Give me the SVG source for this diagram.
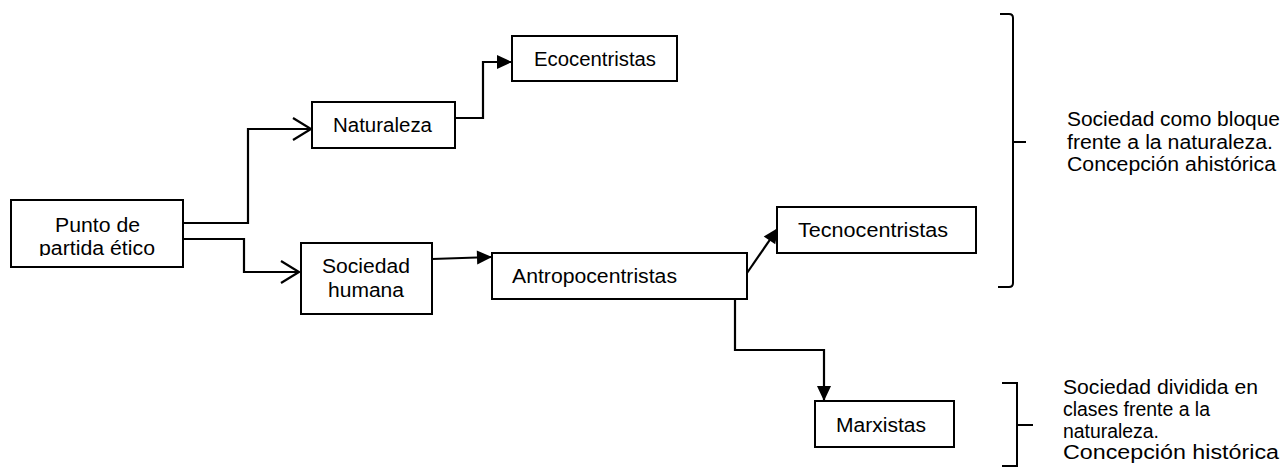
<svg xmlns="http://www.w3.org/2000/svg" width="1287" height="470" viewBox="0 0 1287 470">
<style>
.box{fill:#fff;stroke:#000;stroke-width:2}
.t{font-family:"Liberation Sans",Arial,sans-serif;font-size:20px;fill:#000}
.c{fill:none;stroke:#000;stroke-width:2.2}
.br{fill:none;stroke:#000;stroke-width:2}
</style>
<defs>
<marker id="fa" markerUnits="userSpaceOnUse" markerWidth="16" markerHeight="15" refX="15" refY="7" orient="auto" overflow="visible"><path d="M0,0 L15,7 L0,14 z" fill="#000"/></marker>
<marker id="oa" markerUnits="userSpaceOnUse" markerWidth="20" markerHeight="24" refX="18" refY="11" orient="auto" overflow="visible"><path d="M0,0 L18,11 L0,22" fill="none" stroke="#000" stroke-width="2.2"/></marker>
<clipPath id="clipP"><rect x="11" y="200" width="172" height="56"/></clipPath>
</defs>
<rect width="1287" height="470" fill="#fff"/>
<g id="connectors">
<path class="c" d="M183,223 H248 V129 H311" marker-end="url(#oa)"/>
<path class="c" d="M183,239 H244 V272 H299" marker-end="url(#oa)"/>
<path class="c" d="M455,118 H483 V62 H512" marker-end="url(#fa)"/>
<path class="c" d="M432,259 L492,257" marker-end="url(#fa)"/>
<path class="c" d="M747,273 L778,228" marker-end="url(#fa)"/>
<path class="c" d="M735,299 V350 H824 V401" marker-end="url(#fa)"/>
</g>
<g id="punto">
<rect class="box" x="11" y="200" width="172" height="67"/>
<g clip-path="url(#clipP)">
<text class="t" x="55" y="232" textLength="85" lengthAdjust="spacingAndGlyphs">Punto de</text>
<text class="t" x="39" y="254.5" textLength="116" lengthAdjust="spacingAndGlyphs">partida ético</text>
</g>
</g>
<g id="naturaleza">
<rect class="box" x="312" y="102" width="143" height="46"/>
<text class="t" x="333" y="132" textLength="99" lengthAdjust="spacingAndGlyphs">Naturaleza</text>
</g>
<g id="ecocentristas">
<rect class="box" x="512" y="36" width="165" height="45"/>
<text class="t" x="534" y="65.5" textLength="122" lengthAdjust="spacingAndGlyphs">Ecocentristas</text>
</g>
<g id="sociedad">
<rect class="box" x="301" y="243" width="131" height="71"/>
<text class="t" x="322" y="273" textLength="88" lengthAdjust="spacingAndGlyphs">Sociedad</text>
<text class="t" x="328" y="297" textLength="76" lengthAdjust="spacingAndGlyphs">humana</text>
</g>
<g id="antropocentristas">
<rect class="box" x="492" y="253" width="255" height="46"/>
<text class="t" x="512" y="283" textLength="165" lengthAdjust="spacingAndGlyphs">Antropocentristas</text>
</g>
<g id="tecnocentristas">
<rect class="box" x="777" y="207" width="199" height="46"/>
<text class="t" x="798" y="237" textLength="150" lengthAdjust="spacingAndGlyphs">Tecnocentristas</text>
</g>
<g id="marxistas">
<rect class="box" x="815" y="401" width="139" height="46"/>
<text class="t" x="836" y="432" textLength="90" lengthAdjust="spacingAndGlyphs">Marxistas</text>
</g>
<g id="bracket-top">
<path class="br" d="M1000,14 H1009 Q1013,14 1013,18 V283 Q1013,287 1009,287 H998"/>
<path class="br" d="M1013,142 H1026"/>
<text class="t" x="1067" y="126" textLength="213" lengthAdjust="spacingAndGlyphs">Sociedad como bloque</text>
<text class="t" x="1067" y="148.5" textLength="206" lengthAdjust="spacingAndGlyphs">frente a la naturaleza.</text>
<text class="t" x="1067" y="171" textLength="209" lengthAdjust="spacingAndGlyphs">Concepción ahistórica</text>
</g>
<g id="bracket-bottom">
<path class="br" d="M1002,383 H1017 V466 H1002"/>
<path class="br" d="M1017,425 H1033"/>
<text class="t" x="1063" y="394" textLength="195" lengthAdjust="spacingAndGlyphs">Sociedad dividida en</text>
<text class="t" x="1063" y="416" textLength="147" lengthAdjust="spacingAndGlyphs">clases frente a la</text>
<text class="t" x="1063" y="437.5" textLength="96" lengthAdjust="spacingAndGlyphs">naturaleza.</text>
<text class="t" x="1063" y="459" textLength="216" lengthAdjust="spacingAndGlyphs">Concepción histórica</text>
</g>
</svg>
